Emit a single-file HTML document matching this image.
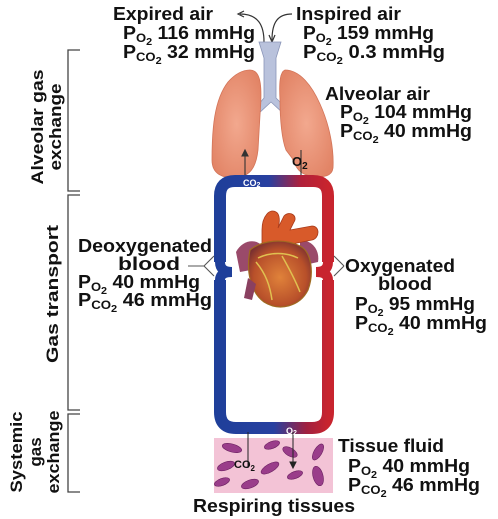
<!DOCTYPE html>
<html><head><meta charset="utf-8"><style>
html,body{margin:0;padding:0;background:#fff}
svg{display:block}
text{font-family:"Liberation Sans",sans-serif;font-weight:bold;fill:#111}
</style></head><body>
<svg width="498" height="519" viewBox="0 0 498 519">
<defs>
<linearGradient id="topg" x1="0" x2="1"><stop offset="0" stop-color="#1f3f9a"/><stop offset="0.45" stop-color="#2840a0"/><stop offset="0.75" stop-color="#b0203a"/><stop offset="1" stop-color="#c8242e"/></linearGradient>
<linearGradient id="botg" x1="0" x2="1"><stop offset="0" stop-color="#1f3f9a"/><stop offset="0.5" stop-color="#2840a0"/><stop offset="0.8" stop-color="#a02040"/><stop offset="1" stop-color="#c8242e"/></linearGradient>
<radialGradient id="lung" cx="0.5" cy="0.5" r="0.6"><stop offset="0" stop-color="#f2a88e"/><stop offset="1" stop-color="#e28466"/></radialGradient>
<radialGradient id="heart" cx="0.5" cy="0.55" r="0.6"><stop offset="0" stop-color="#e0823a"/><stop offset="0.7" stop-color="#b8502a"/><stop offset="1" stop-color="#7a3030"/></radialGradient>
</defs>

<g stroke="#444" stroke-width="1.3" fill="none">
<path d="M80 50 H68 V191 H80"/>
<path d="M80 195 H68 V410 H80"/>
<path d="M80 414 H68 V492 H80"/>
</g>
<g font-size="17">
<text transform="translate(43,127) rotate(-90)" text-anchor="middle" textLength="115" lengthAdjust="spacingAndGlyphs">Alveolar gas</text>
<text transform="translate(61,127) rotate(-90)" text-anchor="middle" textLength="87" lengthAdjust="spacingAndGlyphs">exchange</text>
<text transform="translate(58,294) rotate(-90)" text-anchor="middle" textLength="138" lengthAdjust="spacingAndGlyphs">Gas transport</text>
<text transform="translate(22,452) rotate(-90)" text-anchor="middle" textLength="81" lengthAdjust="spacingAndGlyphs">Systemic</text>
<text transform="translate(41,452) rotate(-90)" text-anchor="middle">gas</text>
<text transform="translate(59,452) rotate(-90)" text-anchor="middle" textLength="83" lengthAdjust="spacingAndGlyphs">exchange</text>
</g>

<g stroke="#333" stroke-width="1.2" fill="none">
<path d="M264 42 C264 25 258 14 240 14"/><path d="M244 11 L238 14 L244 17" />
<path d="M292 14 C278 14 272 22 272 40"/><path d="M269 35 L272 42 L275 35"/>
</g>

<g>
<path d="M259 42 L281 42 L276 58 L276 98 L290 112 L284 114 L271 102 L258 114 L252 112 L264 98 L264 58 Z" fill="#b9c2dc" stroke="#8a95b8" stroke-width="0.8"/>
</g>
<path d="M250 70 C262 70 262 90 260 115 L258 150 C256 168 250 176 236 178 C222 178 212 174 212 160 C212 130 214 100 228 82 C236 73 244 70 250 70 Z" fill="url(#lung)" stroke="#d37458" stroke-width="0.8"/>
<path d="M285 70 C300 70 312 86 320 104 C330 126 334 150 333 168 C332 176 324 178 312 176 C300 175 296 168 292 158 L286 150 C282 140 280 120 280 100 C279 82 280 72 285 70 Z" fill="url(#lung)" stroke="#d37458" stroke-width="0.8"/>

<g stroke="#333" stroke-width="1.1" fill="#333">
<line x1="245" y1="181" x2="245" y2="154"/><path d="M242 156 L245 150 L248 156 Z"/>
<line x1="301" y1="150" x2="301" y2="178"/><path d="M298 176 L301 182 L304 176 Z"/>
</g>

<path d="M220 262 V196 Q220 181 235 181 H313 Q328 181 328 196 V262" fill="none" stroke="url(#topg)" stroke-width="12"/>
<path d="M220 280 V412 Q220 428 236 428 H312 Q328 428 328 412 V280" fill="none" stroke="url(#botg)" stroke-width="12"/>
<path d="M220 262 Q220 272 232 272 M220 280 Q220 272 232 272" stroke="#1f3f9a" stroke-width="10" fill="none"/>
<path d="M328 262 Q328 272 316 272 M328 280 Q328 272 316 272" stroke="#c8242e" stroke-width="10" fill="none"/>

<text x="243" y="186" font-size="9" style="fill:#fff">CO<tspan font-size="7" dy="1">2</tspan></text>
<text x="292" y="166" font-size="13">O<tspan font-size="10" dy="3">2</tspan></text>

<g>
<path d="M236 252 C242 240 256 238 262 246 L262 268 L240 272 Z" fill="#9a4a6a"/>
<path d="M300 240 C312 240 320 250 318 262 L300 266 Z" fill="#9a4a6a"/>
<path d="M262 230 C262 216 270 208 276 212 C280 214 280 222 278 228 L284 216 C290 210 298 216 294 222 L290 230 L312 226 C320 226 320 238 312 240 L292 244 L262 250 Z" fill="#d85a2a" stroke="#a83a1a" stroke-width="0.8"/>
<path d="M250 250 C246 270 250 292 264 302 C280 312 300 306 308 290 C314 274 312 252 300 246 C284 238 262 240 250 250 Z" fill="url(#heart)" stroke="#a06a20" stroke-width="1.2"/>
<path d="M248 278 L244 298 L252 300 L256 284 Z" fill="#8a4060"/>
<path d="M256 262 C266 274 270 286 272 300 M282 256 C290 270 296 282 300 292 M258 258 C270 252 286 252 298 258" stroke="#e0c050" stroke-width="1.5" fill="none"/>
</g>

<g stroke="#555" stroke-width="1.1" fill="none">
<path d="M188 266 H204 L214 256 M204 266 L214 276"/>
<path d="M344 266 L334 256 M344 266 L334 276"/>
</g>

<g>
<rect x="214" y="438" width="119" height="55" fill="#f3c3d6"/>
<g fill="#9a3d8a" stroke="#6a2060" stroke-width="0.6">
<ellipse cx="232" cy="448" rx="10" ry="4" transform="rotate(15 232 448)"/>
<ellipse cx="272" cy="445" rx="8" ry="3.5" transform="rotate(-20 272 445)"/>
<ellipse cx="290" cy="452" rx="8" ry="4" transform="rotate(30 290 452)"/>
<ellipse cx="318" cy="452" rx="4" ry="9" transform="rotate(30 318 452)"/>
<ellipse cx="226" cy="466" rx="9" ry="4" transform="rotate(-20 226 466)"/>
<ellipse cx="270" cy="468" rx="10" ry="4" transform="rotate(-30 270 468)"/>
<ellipse cx="222" cy="482" rx="8" ry="3.5" transform="rotate(-20 222 482)"/>
<ellipse cx="250" cy="484" rx="9" ry="4" transform="rotate(-20 250 484)"/>
<ellipse cx="295" cy="475" rx="8" ry="3.5" transform="rotate(-20 295 475)"/>
<ellipse cx="318" cy="476" rx="5" ry="10" transform="rotate(-15 318 476)"/>
</g>
<g stroke="#222" stroke-width="1" fill="#222">
<line x1="248" y1="432" x2="248" y2="468"/>
<line x1="293" y1="432" x2="293" y2="464"/><path d="M290 462 L293 468 L296 462 Z"/>
</g>
<text x="234" y="468" font-size="11">CO<tspan font-size="8" dy="3">2</tspan></text>
<text x="286" y="434" font-size="9" style="fill:#fff">O<tspan font-size="7" dy="1">2</tspan></text>
</g>

<g font-size="18">
<text x="113" y="20" textLength="100" lengthAdjust="spacingAndGlyphs">Expired air</text>
<text x="123" y="39" textLength="132" lengthAdjust="spacingAndGlyphs">P<tspan font-size="12" dy="3">O</tspan><tspan font-size="10" dy="3">2</tspan><tspan dy="-6"> 116 mmHg</tspan></text>
<text x="123" y="58" textLength="132" lengthAdjust="spacingAndGlyphs">P<tspan font-size="12" dy="3">CO</tspan><tspan font-size="10" dy="3">2</tspan><tspan dy="-6"> 32 mmHg</tspan></text>

<text x="296" y="20" textLength="105" lengthAdjust="spacingAndGlyphs">Inspired air</text>
<text x="303" y="39" textLength="131" lengthAdjust="spacingAndGlyphs">P<tspan font-size="12" dy="3">O</tspan><tspan font-size="10" dy="3">2</tspan><tspan dy="-6"> 159 mmHg</tspan></text>
<text x="303" y="58" textLength="142" lengthAdjust="spacingAndGlyphs">P<tspan font-size="12" dy="3">CO</tspan><tspan font-size="10" dy="3">2</tspan><tspan dy="-6">  0.3 mmHg</tspan></text>

<text x="325" y="100" textLength="105" lengthAdjust="spacingAndGlyphs">Alveolar air</text>
<text x="340" y="118" textLength="132" lengthAdjust="spacingAndGlyphs">P<tspan font-size="12" dy="3">O</tspan><tspan font-size="10" dy="3">2</tspan><tspan dy="-6"> 104 mmHg</tspan></text>
<text x="340" y="137" textLength="132" lengthAdjust="spacingAndGlyphs">P<tspan font-size="12" dy="3">CO</tspan><tspan font-size="10" dy="3">2</tspan><tspan dy="-6"> 40 mmHg</tspan></text>

<text x="78" y="252" textLength="134" lengthAdjust="spacingAndGlyphs">Deoxygenated</text>
<text x="118" y="270" textLength="62" lengthAdjust="spacingAndGlyphs">blood</text>
<text x="78" y="288" textLength="122" lengthAdjust="spacingAndGlyphs">P<tspan font-size="12" dy="3">O</tspan><tspan font-size="10" dy="3">2</tspan><tspan dy="-6"> 40 mmHg</tspan></text>
<text x="78" y="306" textLength="134" lengthAdjust="spacingAndGlyphs">P<tspan font-size="12" dy="3">CO</tspan><tspan font-size="10" dy="3">2</tspan><tspan dy="-6"> 46 mmHg</tspan></text>

<text x="345" y="272" textLength="110" lengthAdjust="spacingAndGlyphs">Oxygenated</text>
<text x="378" y="290" textLength="54" lengthAdjust="spacingAndGlyphs">blood</text>
<text x="355" y="310" textLength="120" lengthAdjust="spacingAndGlyphs">P<tspan font-size="12" dy="3">O</tspan><tspan font-size="10" dy="3">2</tspan><tspan dy="-6"> 95 mmHg</tspan></text>
<text x="355" y="329" textLength="132" lengthAdjust="spacingAndGlyphs">P<tspan font-size="12" dy="3">CO</tspan><tspan font-size="10" dy="3">2</tspan><tspan dy="-6"> 40 mmHg</tspan></text>

<text x="338" y="452" textLength="106" lengthAdjust="spacingAndGlyphs">Tissue fluid</text>
<text x="348" y="472" textLength="122" lengthAdjust="spacingAndGlyphs">P<tspan font-size="12" dy="3">O</tspan><tspan font-size="10" dy="3">2</tspan><tspan dy="-6"> 40 mmHg</tspan></text>
<text x="348" y="491" textLength="132" lengthAdjust="spacingAndGlyphs">P<tspan font-size="12" dy="3">CO</tspan><tspan font-size="10" dy="3">2</tspan><tspan dy="-6"> 46 mmHg</tspan></text>

<text x="193" y="512" textLength="162" lengthAdjust="spacingAndGlyphs">Respiring tissues</text>
</g>
</svg>
</body></html>
